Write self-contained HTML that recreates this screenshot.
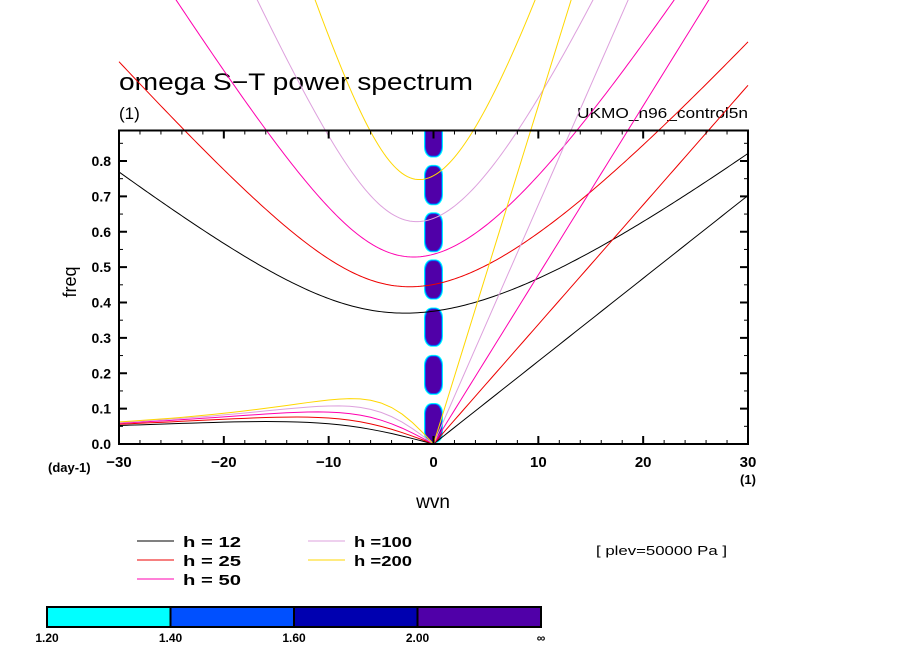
<!DOCTYPE html>
<html><head><meta charset="utf-8">
<style>
body{margin:0;background:#fff;}
svg{display:block;font-family:"Liberation Sans",sans-serif;}
</style></head>
<body>
<svg id="chart" width="904" height="654" viewBox="0 0 904 654">
<defs><clipPath id="frameclip"><rect x="119" y="130.5" width="629" height="313.5"/></clipPath></defs>
<text x="119" y="90" font-size="24" textLength="354" lengthAdjust="spacingAndGlyphs">omega S−T power spectrum</text>
<text x="119" y="119" font-size="17">(1)</text>
<text x="748" y="118" font-size="15" text-anchor="end" textLength="171" lengthAdjust="spacingAndGlyphs">UKMO_n96_control5n</text>
<g id="blobs" clip-path="url(#frameclip)"></g>
<g id="curves"></g>
<g id="axes"></g>
<text x="76" y="282" font-size="18" text-anchor="middle" transform="rotate(-90 76 282)">freq</text>
<text x="48" y="472" font-size="13" font-weight="bold">(day-1)</text>
<text x="433" y="508" font-size="19" text-anchor="middle">wvn</text>
<text x="748" y="484" font-size="13" font-weight="bold" text-anchor="middle">(1)</text>
<g id="legend"></g>
<text x="596" y="555" font-size="13" textLength="131" lengthAdjust="spacingAndGlyphs">[ plev=50000 Pa ]</text>
<g id="colorbar"></g>
</svg>
<script>
// data
const depths = [12, 25, 50, 100, 200];
const depthColors = ['#000000', '#ee0000', '#ff00b0', '#dda0dd', '#ffd700'];
const depthLabels = ['h = 12', 'h = 25', 'h = 50', 'h =100', 'h =200'];
const blobWvn = [0, 0, 0, 0, 0, 0, 0];
const blobFreqLow = [0.003, 0.139, 0.275, 0.408, 0.542, 0.675, 0.81];
const blobFreqHigh = [0.116, 0.252, 0.386, 0.522, 0.655, 0.789, 0.95];
const xTicks = [-30, -20, -10, 0, 10, 20, 30];
const xTickLabels = ['−30', '−20', '−10', '0', '10', '20', '30'];
const yTicks = [0, 0.1, 0.2, 0.3, 0.4, 0.5, 0.6, 0.7, 0.8];
const yTickLabels = ['0.0', '0.1', '0.2', '0.3', '0.4', '0.5', '0.6', '0.7', '0.8'];
const cbLevels = ['1.20', '1.40', '1.60', '2.00', '∞'];
const cbColors = ['#00ffff', '#0050ff', '#0000b0', '#5000a8'];

const NS = 'http://www.w3.org/2000/svg';
const X0 = 119, X1 = 748, Y0 = 444, YTOP = 130.5;
const xMin = -30, xMax = 30;
const PXF = 353.75;
function sx(v){ return X0 + (v - xMin) / (xMax - xMin) * (X1 - X0); }
function sy(f){ return Y0 - f * PXF; }
function mk(tag, attrs, parent){ const e = document.createElementNS(NS, tag); for (const k in attrs) e.setAttribute(k, attrs[k]); parent.appendChild(e); return e; }

// physics for equatorial wave dispersion (n=1)
const g = 9.81, a = 6.371e6, beta = 2 * 7.292e-5 / a;
const toCpd = 86400 / (2 * Math.PI);
function cubicRoot(k, c, lo, hi){
  const A = c*c*k*k + 3*beta*c;
  const f = w => w*w*w - A*w - beta*c*c*k;
  let flo = f(lo);
  for (let i = 0; i < 80; i++){ const m = (lo+hi)/2; const fm = f(m); if ((fm > 0) === (flo > 0)){ lo = m; flo = fm; } else hi = m; }
  return (lo+hi)/2;
}
const curves = document.getElementById('curves');
depths.forEach((h, i) => {
  const c = Math.sqrt(g * h);
  const col = depthColors[i];
  let kp = [];
  for (let s = 0; s <= 30; s += 0.5){ kp.push(sx(s).toFixed(2) + ',' + sy(s / a * c * toCpd).toFixed(2)); }
  let e = mk('polyline', {points: kp.join(' '), fill: 'none', stroke: col, 'stroke-width': 1}, curves);
  
  
  let ip = [];
  for (let s = -30; s <= 30.001; s += 0.25){
    const k = s / a; const A = c*c*k*k + 3*beta*c;
    const w = cubicRoot(k, c, Math.sqrt(A/3), 10*Math.sqrt(A) + 1e-3);
    ip.push(sx(s).toFixed(2) + ',' + sy(w * toCpd).toFixed(2));
  }
  e = mk('polyline', {points: ip.join(' '), fill: 'none', stroke: col, 'stroke-width': 1}, curves);
  
  
  let rp = [];
  for (let s = -30; s <= 0; s += 1){
    const k = s / a; const A = c*c*k*k + 3*beta*c;
    const w = s === 0 ? 0 : cubicRoot(k, c, 0, Math.sqrt(A/3));
    rp.push(sx(s).toFixed(2) + ',' + sy(w * toCpd).toFixed(2));
  }
  e = mk('polyline', {points: rp.join(' '), fill: 'none', stroke: col, 'stroke-width': 1}, curves);
  
  
});

// power blobs
const blobs = document.getElementById('blobs');
blobWvn.forEach((w, i) => {
  const cx = sx(w), yt = sy(blobFreqHigh[i]), yb = sy(blobFreqLow[i]);
  const grp = mk('g', {}, blobs);
  
  
  const layers = ['#00ffff', '#0050ff', '#5000a8'];
  layers.forEach((col, j) => {
    const hw = 9.5 - j * 0.9, t = yt + j * 0.9, b = yb - j * 0.9;
    mk('rect', {x: cx - hw, y: t, width: 2 * hw, height: b - t, rx: hw * 0.8, ry: 10, fill: col}, grp);
  });
});

// axes
const axes = document.getElementById('axes');
mk('rect', {x: X0, y: YTOP, width: X1 - X0, height: Y0 - YTOP, fill: 'none', stroke: '#000', 'stroke-width': 2}, axes);
for (let v = -30; v <= 30; v += 2){
  const major = v % 10 === 0, L = major ? 8 : 4;
  mk('line', {x1: sx(v), x2: sx(v), y1: Y0, y2: Y0 - L, stroke: '#000', 'stroke-width': major ? 2 : 1}, axes);
  mk('line', {x1: sx(v), x2: sx(v), y1: YTOP, y2: YTOP + L, stroke: '#000', 'stroke-width': major ? 2 : 1}, axes);
}
for (let k = 0; k <= 17; k++){
  const f = k * 0.05, major = k % 2 === 0, L = major ? 8 : 4;
  mk('line', {x1: X0, x2: X0 + L, y1: sy(f), y2: sy(f), stroke: '#000', 'stroke-width': major ? 2 : 1}, axes);
  mk('line', {x1: X1, x2: X1 - L, y1: sy(f), y2: sy(f), stroke: '#000', 'stroke-width': major ? 2 : 1}, axes);
}
xTicks.forEach((v, i) => {
  const t = mk('text', {x: sx(v), y: 467, 'font-size': 15, 'font-weight': 'bold', 'text-anchor': 'middle'}, axes);
  t.textContent = xTickLabels[i];
  
  
});
yTicks.forEach((v, i) => {
  const t = mk('text', {x: 111, y: sy(v) + 5, 'font-size': 14, 'font-weight': 'bold', 'text-anchor': 'end'}, axes);
  t.textContent = yTickLabels[i];
  
  
});

// legend
const legend = document.getElementById('legend');
depths.forEach((h, i) => {
  const col = i < 3 ? 0 : 1, row = i < 3 ? i : i - 3;
  const lx = col ? 308 : 137, ty = 541 + row * 19;
  const grp = mk('g', {}, legend);
  
  
  mk('line', {x1: lx, x2: lx + 37, y1: ty, y2: ty, stroke: depthColors[i], 'stroke-width': 1}, grp);
  const t = mk('text', {x: lx + 46, y: ty + 6, 'font-size': 15, 'font-weight': 'bold', textLength: 58, lengthAdjust: 'spacingAndGlyphs'}, grp);
  t.textContent = depthLabels[i];
});

// colorbar
const cb = document.getElementById('colorbar');
const cbX0 = 47, cbX1 = 541, cbW = (cbX1 - cbX0) / cbColors.length;
cbColors.forEach((col, i) => {
  const r = mk('rect', {x: cbX0 + i * cbW, y: 607, width: cbW, height: 20, fill: col, stroke: '#000', 'stroke-width': 2}, cb);
  
  
});
cbLevels.forEach((l, i) => {
  const t = mk('text', {x: cbX0 + i * cbW, y: 642, 'font-size': 12, 'font-weight': 'bold', 'text-anchor': 'middle'}, cb);
  t.textContent = l;
  
  
});
</script>
</body></html>
